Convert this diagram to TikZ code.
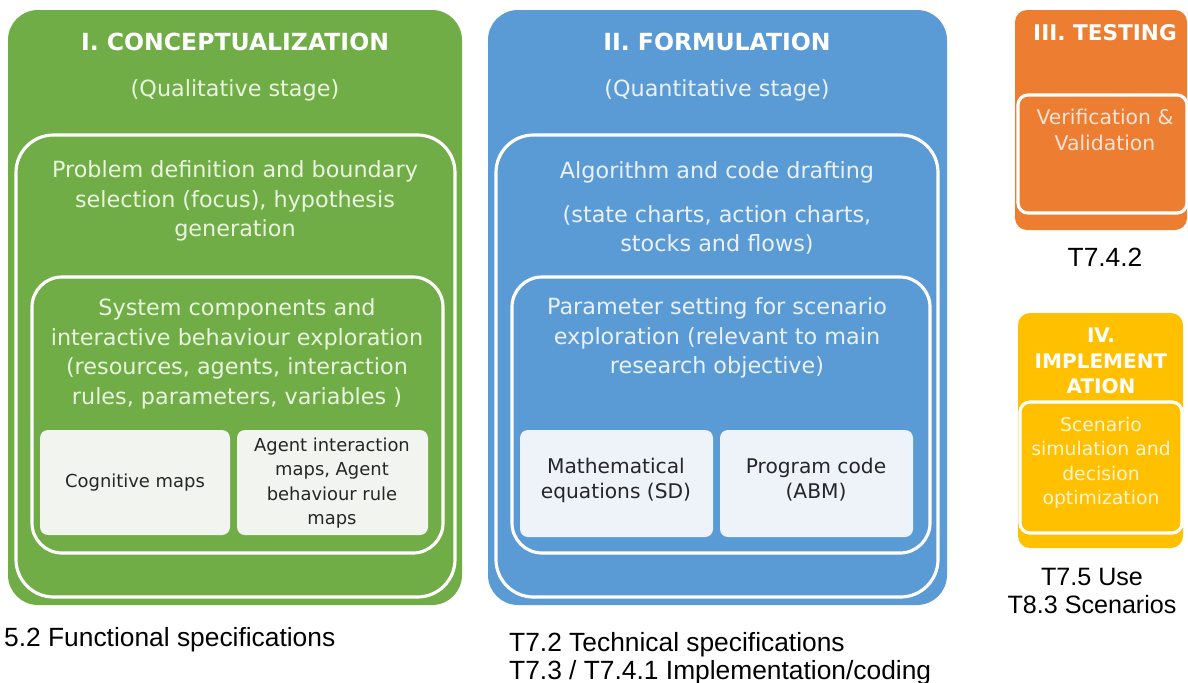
\documentclass[tikz,border=0pt]{standalone}
\usepackage{fontspec}
\setmainfont{DejaVu Sans}
\newfontfamily\labelfont{Liberation Sans}
\usepackage{tikz}

\definecolor{conceptgreen}{HTML}{70AD47}
\definecolor{formblue}{HTML}{5B9BD5}
\definecolor{testorange}{HTML}{ED7D31}
\definecolor{implyellow}{HTML}{FFC000}
\definecolor{greentext}{HTML}{EAF5DF}
\definecolor{bluetext}{HTML}{EAF1FA}
\definecolor{orangetext}{HTML}{FCE4D6}
\definecolor{yellowtext}{HTML}{FFF5D6}
\definecolor{greentile}{HTML}{F2F4EF}
\definecolor{bluetile}{HTML}{EEF3F9}

\tikzset{
	outline/.style={draw=white, line width=1.8pt},
	maptile/.style={rounded corners=0.16cm},
	bodytext/.style={align=center, font=\fontsize{12.7}{16.8}\selectfont},
	titletext/.style={font=\bfseries\fontsize{13.4}{15}\selectfont, text=white},
	tiletext/.style={align=center, font=\fontsize{10.2}{14}\selectfont, text=black!85},
	tasklabel/.style={font=\labelfont\fontsize{15}{16}\selectfont, text=black, align=left}
}

\begin{document}
\begin{tikzpicture}[x=0.02cm, y=-0.02cm]
			\useasboundingbox (0,0) rectangle (1188,683);
			% I. conceptualization
			\fill[conceptgreen, rounded corners=0.6cm] (8,10) rectangle (462,605);
			\draw[outline, rounded corners=0.75cm] (16,135) rectangle (455,597);
			\draw[outline, rounded corners=0.6cm] (32,277) rectangle (443,553);
			\fill[greentile, maptile] (40,430) rectangle (230,535);
			\fill[greentile, maptile] (237,430) rectangle (428,535);
			\node[titletext] (concTitle) at (235,42) {I. CONCEPTUALIZATION};
			\node[bodytext, text=greentext] (concStage) at (235,90) {(Qualitative stage)};
			\node[bodytext, text=greentext] (concProblem) at (235,201) {Problem definition and boundary\\selection (focus), hypothesis\\generation};
			\node[bodytext, text=greentext] (concSystem) at (237,354) {System components and\\interactive behaviour exploration\\(resources, agents, interaction\\rules, parameters, variables )};
			\node[tiletext] (cogMaps) at (135,483) {Cognitive maps};
			\node[tiletext] (agentMaps) at (332,483) {Agent interaction\\maps, Agent\\behaviour rule\\maps};
			% II. formulation
			\fill[formblue, rounded corners=0.6cm] (488,10) rectangle (947,605);
			\draw[outline, rounded corners=0.75cm] (496,135) rectangle (938,597);
			\draw[outline, rounded corners=0.6cm] (512,277) rectangle (930,553);
			\fill[bluetile, maptile] (520,430) rectangle (713,537);
			\fill[bluetile, maptile] (720,430) rectangle (913,537);
			\node[titletext] (formTitle) at (717,42) {II. FORMULATION};
			\node[bodytext, text=bluetext] (formStage) at (717,90) {(Quantitative stage)};
			\node[bodytext, text=bluetext] (formAlgo) at (717,172) {Algorithm and code drafting};
			\node[bodytext, text=bluetext] (formCharts) at (717,230) {(state charts, action charts,\\stocks and flows)};
			\node[bodytext, text=bluetext] (formParam) at (717,338) {Parameter setting for scenario\\exploration (relevant to main\\research objective)};
			\node[tiletext, font=\fontsize{11.5}{14.2}\selectfont] (mathEq) at (616,480) {Mathematical\\equations (SD)};
			\node[tiletext, font=\fontsize{11.5}{14.2}\selectfont] (progCode) at (816,480) {Program code\\(ABM)};
			% III. testing
			\fill[testorange, rounded corners=0.24cm] (1015,10) rectangle (1187,230);
			\draw[outline, rounded corners=0.2cm] (1018,95) rectangle (1187,213);
			\node[titletext, font=\bfseries\fontsize{12.3}{13}\selectfont] (testTitle) at (1105,33) {III. TESTING};
			\node[bodytext, text=orangetext, font=\fontsize{11.6}{14.5}\selectfont] (testVV) at (1105,130) {Verification \&\\Validation};
			% IV. implementation
			\fill[implyellow, rounded corners=0.24cm] (1018,313) rectangle (1183,548);
			\draw[outline, rounded corners=0.2cm] (1020,402) rectangle (1182,533);
			\node[titletext, align=center, font=\bfseries\fontsize{11.4}{14.7}\selectfont] (implTitle) at (1101,361) {IV.\\IMPLEMENT\\ATION};
			\node[bodytext, text=yellowtext, font=\fontsize{10.7}{13.9}\selectfont] (implScen) at (1101,463) {Scenario\\simulation and\\decision\\optimization};
			% task labels
			\node[tasklabel, anchor=west] (taskConc) at (-2,640) {5.2 Functional specifications};
			\node[tasklabel, anchor=north west] (taskForm) at (503,626) {T7.2 Technical specifications\\T7.3 / T7.4.1 Implementation/coding};
			\node[tasklabel] (taskTest) at (1105,257) {T7.4.2};
			\node[tasklabel, align=center, font=\labelfont\fontsize{14.3}{16}\selectfont] (taskImpl) at (1092,591) {T7.5 Use\\T8.3 Scenarios};
		\end{tikzpicture}
\end{document}
